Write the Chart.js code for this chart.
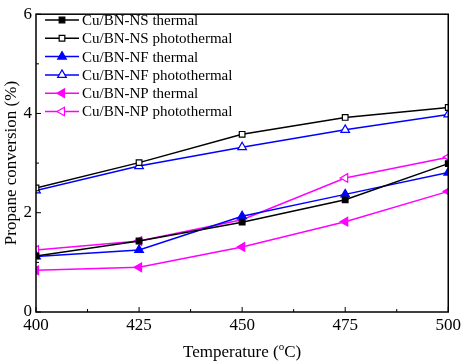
<!DOCTYPE html>
<html>
<head>
<meta charset="utf-8">
<script src="https://cdn.jsdelivr.net/npm/chart.js@4"></script>
<style>
  html, body { margin: 0; padding: 0; background: #fff; }
  #wrap { width: 464px; height: 364px; }
</style>
</head>
<body>
<div id="wrap"><canvas id="chart" width="464" height="364"></canvas></div>
<script>
// temperatures (°C)
var temps = [400, 425, 450, 475, 500];
// propane conversion (%)
var nsThermal = [1.13, 1.43, 1.81, 2.26, 2.99];
var nsPhoto = [2.50, 3.01, 3.58, 3.92, 4.12];
var nfThermal = [1.12, 1.25, 1.93, 2.37, 2.81];
var nfPhoto = [2.45, 2.94, 3.32, 3.67, 3.98];
var npThermal = [0.84, 0.90, 1.31, 1.82, 2.43];
var npPhoto = [1.25, 1.43, 1.86, 2.70, 3.12];
var xTicks = [400, 425, 450, 475, 500];
var yTicks = [0, 2, 4, 6];

var font = "'Liberation Serif', 'Times New Roman', serif";

function pts(vals) {
  return temps.map(function (t, i) { return {x: t, y: vals[i]}; });
}

function series(label, vals, color, style, filled, rot) {
  return {
    label: label,
    data: pts(vals),
    borderColor: color,
    backgroundColor: filled ? color : '#fff',
    pointBorderColor: color,
    pointBackgroundColor: filled ? color : '#fff',
    pointStyle: style,
    pointRotation: rot || 0,
    pointRadius: style == 'rect' ? 4 : 5,
    pointBorderWidth: 1.2,
    borderWidth: 1.5,
    tension: 0
  };
}

var datasets = [
  series('Cu/BN-NS thermal', nsThermal, '#000', 'rect', true),
  series('Cu/BN-NS photothermal', nsPhoto, '#000', 'rect', false),
  series('Cu/BN-NF thermal', nfThermal, '#0000ff', 'triangle', true),
  series('Cu/BN-NF photothermal', nfPhoto, '#0000ff', 'triangle', false),
  series('Cu/BN-NP thermal', npThermal, '#ff00ff', 'triangle', true, 270),
  series('Cu/BN-NP photothermal', npPhoto, '#ff00ff', 'triangle', false, 270)
];

// frame, inward ticks, titles and legend
const decor = {
  id: 'decor',
  afterDraw: (chart) => {
    const {ctx, chartArea} = chart;
    const xs = chart.scales.x, ys = chart.scales.y;
    ctx.save();
    ctx.strokeStyle = '#000';
    ctx.lineWidth = 1.5;
    ctx.strokeRect(chartArea.left, chartArea.top, chartArea.right - chartArea.left, chartArea.bottom - chartArea.top);
    ctx.lineWidth = 1;
    for (var v = 400; v <= 500; v += 12.5) {
      var px = xs.getPixelForValue(v);
      var len = (v % 25 == 0) ? 5 : 3;
      ctx.beginPath();
      ctx.moveTo(px, chartArea.bottom);
      ctx.lineTo(px, chartArea.bottom - len);
      ctx.stroke();
    }
    for (var w = 0; w <= 6; w += 1) {
      var py = ys.getPixelForValue(w);
      var l2 = (w % 2 == 0) ? 5 : 3;
      ctx.beginPath();
      ctx.moveTo(chartArea.left, py);
      ctx.lineTo(chartArea.left + l2, py);
      ctx.stroke();
    }
    // x title with superscript o
    ctx.fillStyle = '#000';
    ctx.textBaseline = 'alphabetic';
    var a = 'Temperature (', b = 'o', c = 'C)';
    ctx.font = '17px ' + font;
    var wa = ctx.measureText(a).width, wc = ctx.measureText(c).width;
    ctx.font = '11px ' + font;
    var wb = ctx.measureText(b).width;
    var cx = (chartArea.left + chartArea.right) / 2;
    var x0 = cx - (wa + wb + wc) / 2;
    var by = 357;
    ctx.font = '17px ' + font;
    ctx.textAlign = 'left';
    ctx.fillText(a, x0, by);
    ctx.font = '11px ' + font;
    ctx.fillText(b, x0 + wa, by - 7);
    ctx.font = '17px ' + font;
    ctx.fillText(c, x0 + wa + wb, by);
    // y title
    ctx.save();
    ctx.translate(12, (chartArea.top + chartArea.bottom) / 2);
    ctx.rotate(-Math.PI / 2);
    ctx.textAlign = 'center';
    ctx.textBaseline = 'middle';
    ctx.font = '17px ' + font;
    ctx.fillText('Propane conversion (%)', 0, 0);
    ctx.restore();
    // legend
    ctx.font = '15px ' + font;
    ctx.textBaseline = 'middle';
    ctx.textAlign = 'left';
    chart.data.datasets.forEach(function (ds, i) {
      var y = 20 + i * 18.3;
      ctx.strokeStyle = ds.borderColor;
      ctx.lineWidth = 1.5;
      ctx.beginPath();
      ctx.moveTo(45, y);
      ctx.lineTo(79, y);
      ctx.stroke();
      ctx.fillStyle = ds.pointBackgroundColor;
      ctx.strokeStyle = ds.pointBorderColor;
      ctx.lineWidth = 1.2;
      Chart.helpers.drawPoint(ctx, {pointStyle: ds.pointStyle, radius: ds.pointRadius, rotation: ds.pointRotation, borderWidth: 1.2}, 62, y);
      ctx.fillStyle = '#000';
      ctx.fillText(ds.label, 82, y + 1);
    });
    ctx.restore();
  }
};

new Chart(document.getElementById('chart'), {
  type: 'line',
  data: {datasets: datasets},
  options: {
    responsive: false,
    animation: false,
    layout: {padding: {top: 10, right: 15, left: 0, bottom: 0}},
    plugins: {legend: {display: false}, tooltip: {enabled: false}},
    scales: {
      x: {
        type: 'linear', min: 400, max: 500,
        afterFit: (s) => { s.height = 52; },
        afterBuildTicks: (s) => { s.ticks = xTicks.map(v => ({value: v})); },
        grid: {display: false, drawTicks: false, tickLength: 0},
        border: {display: false},
        ticks: {color: '#000', font: {family: font, size: 17}, padding: 3, maxRotation: 0}
      },
      y: {
        min: 0, max: 6,
        afterFit: (s) => { s.width = 36; },
        afterBuildTicks: (s) => { s.ticks = yTicks.map(v => ({value: v})); },
        grid: {display: false, drawTicks: false, tickLength: 0},
        border: {display: false},
        ticks: {color: '#000', font: {family: font, size: 17}, padding: 4}
      }
    }
  },
  plugins: [decor]
});
</script>
</body>
</html>
